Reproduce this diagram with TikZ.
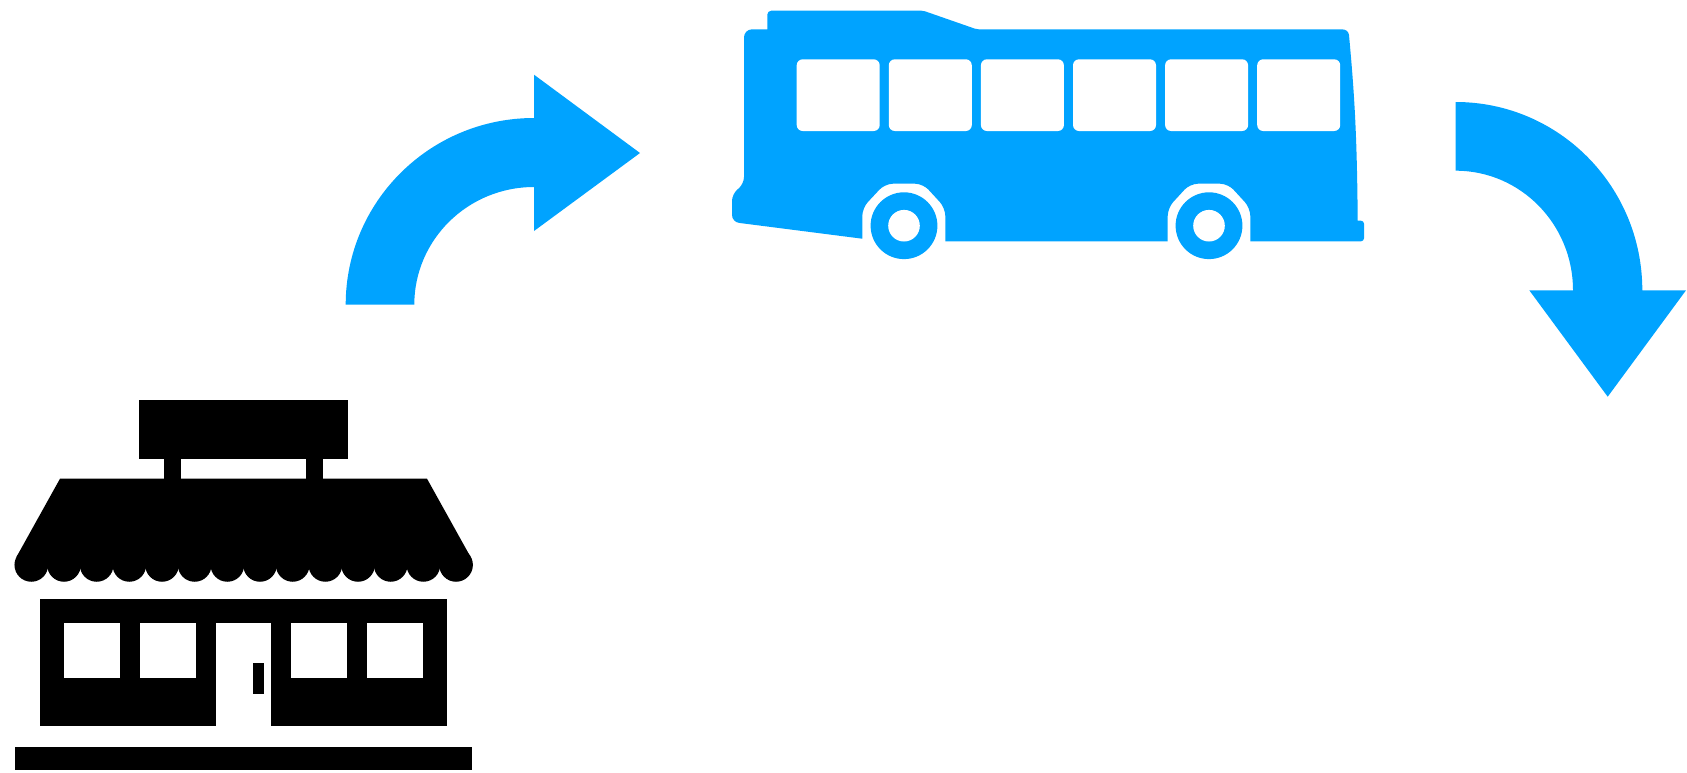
\documentclass[tikz,border=0pt]{standalone}
\usepackage{tikz}

\definecolor{busblue}{HTML}{00A3FF}

\begin{document}
\begin{tikzpicture}[x=1pt, y=-1pt]
    % Styles
    \tikzstyle{bluepart} = [fill=busblue]
    \tikzstyle{shoppart} = [fill=black]
    \tikzstyle{cutout} = [fill=white]

    \useasboundingbox (0,0) rectangle (1687,772);

    % Curved arrows
    \path [bluepart] (345.7,304.7) .. controls (345.7,201.6) and (430,118) .. (534,118)
        -- (534,74.7) -- (640,153) -- (534,231) -- (534,187)
        .. controls (467.9,187) and (414.3,239.7) .. (414.3,304.7) -- cycle;
    \path [bluepart] (1455.7,102) .. controls (1558.8,102) and (1642.3,186.3) .. (1642.3,290.3)
        -- (1686,290.3) -- (1607.7,396.7) -- (1529.3,290.3) -- (1573,290.3)
        .. controls (1573,224.2) and (1520.5,170.7) .. (1455.7,170.7) -- cycle;

    % Bus body
    \path [bluepart] (744,100) [rounded corners=8pt] -- (744,29.3) [sharp corners] -- (767.3,29.3)
        [rounded corners=4pt] -- (767.3,10.7) [rounded corners=2pt] -- (923.3,10.7) -- (976.7,29.3) [sharp corners] -- (1341.7,29.3)
        .. controls (1346,29.3) and (1348.5,31.5) .. (1349,35)
        .. controls (1354,90) and (1357,130) .. (1357.7,220.7)
        [rounded corners=3pt] -- (1364,220.7) -- (1364,241.3) [sharp corners] -- (1250.3,241.3)
        [rounded corners=8pt] -- (1250.3,208) -- (1228,183.7) -- (1190,183.7) -- (1167.7,208)
        [sharp corners] -- (1167.7,241.3) -- (945.3,241.3)
        [rounded corners=8pt] -- (945.3,208) -- (923,183.7) -- (885,183.7) -- (862.3,208)
        [sharp corners] -- (862.3,238.7)
        [rounded corners=7pt] -- (732,222) -- (732,194) -- (744,184) -- cycle;

    % Bus windows
    \foreach \n in {0,...,5} {
        \path [cutout, rounded corners=6pt] (796.7+92.1*\n,59.3) rectangle (879.7+92.1*\n,131);
    }

    % Bus wheels
    \foreach \wx in {904,1209} {
        \path [bluepart] (\wx,225.7) circle [radius=33.4];
        \path [cutout] (\wx,225.7) circle [radius=15.8];
    }

    % Shop sign
    \path [shoppart] (139.3,400) rectangle (347.7,458.7);
    \path [shoppart] (164,458.7) rectangle (181.3,480);
    \path [shoppart] (305.7,458.7) rectangle (323,480);

    % Shop awning
    \path [shoppart] (60,478.7) -- (427,478.7) -- (470.4,556.7) -- (455.67,564.9) -- (31.33,564.9) -- (16.6,556.7) -- cycle;
    \foreach \n in {0,...,13} {
        \path [shoppart] (31.33+32.67*\n,564.9) circle [radius=16.85];
    }

    % Shop building
    \path [shoppart] (40,599.3) rectangle (447,726.3);
    \path [cutout] (215.7,623) rectangle (271.3,727);
    \path [shoppart] (253.3,663) rectangle (264,693.7);
    \foreach \wx in {64.3,140,291,367} {
        \path [cutout] (\wx,623) rectangle (\wx+56,678.3);
    }

    % Ground
    \path [shoppart] (14.7,747.3) rectangle (472.3,769.5);
\end{tikzpicture}
\end{document}
